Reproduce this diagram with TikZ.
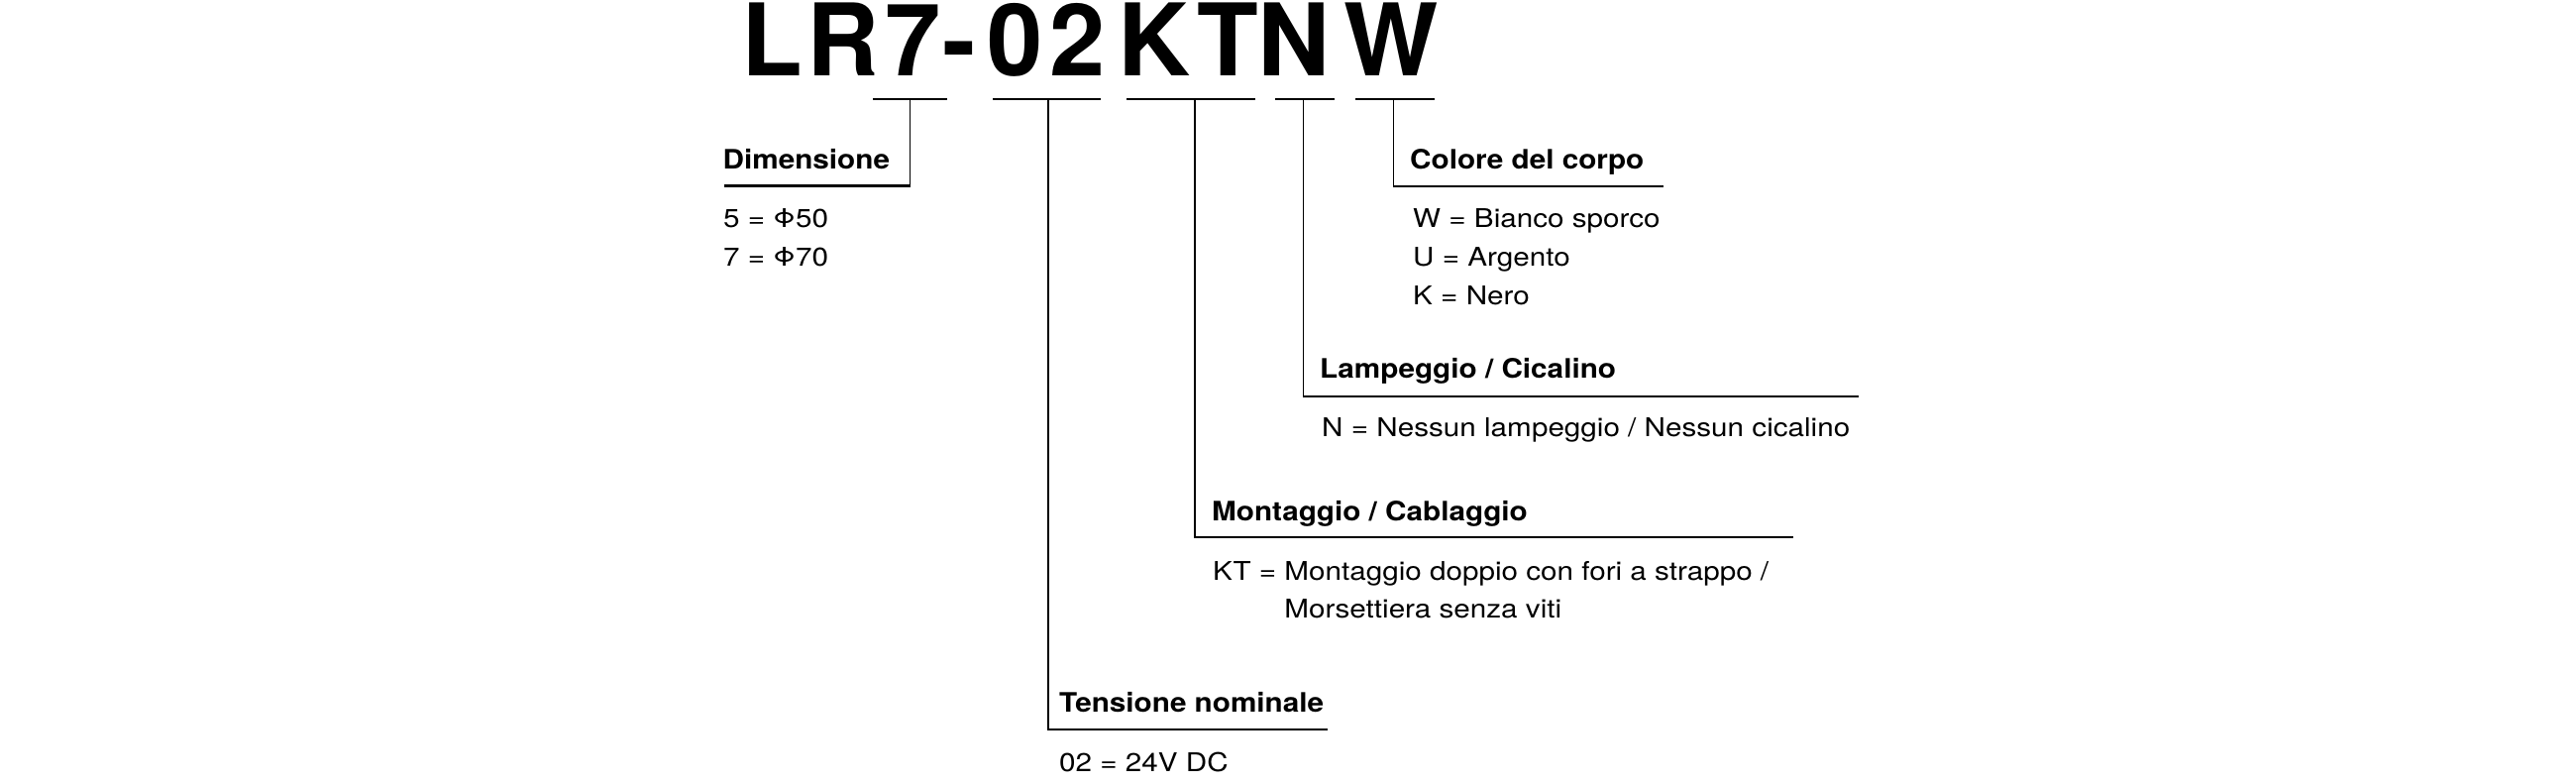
\documentclass[tikz,border=0pt]{standalone}
\usepackage{fontspec}
\setmainfont{TeX Gyre Heros}
\newfontfamily\labfont{TeX Gyre Heros}[FakeStretch=1.1]
\newfontfamily\valfont{TeX Gyre Heros}[FakeStretch=1.14]
\begin{document}
\begin{tikzpicture}[x=1pt,y=-1pt,
  title/.style={inner sep=0pt,anchor=base,font=\fontsize{101}{101}\selectfont\bfseries},
  lab/.style={inner sep=0pt,anchor=base west,font=\labfont\bfseries\fontsize{27}{30}\selectfont},
  val/.style={inner sep=0pt,anchor=base west,font=\valfont\fontsize{26}{30}\selectfont},
  bar/.style={line width=2pt},
  stem/.style={line width=1.4pt},
  uline/.style={line width=2.3pt}]
\useasboundingbox[fill=white] (0,0) rectangle (2600,790);
% title letters
\node[title] (tL) at (779,76) {L};
\node[title] (tR) at (851,76) {R};
\node[title] (t7) at (921.6,76) {7};
\node[title] (tD) at (968.8,76) {-};
\node[title] (t0) at (1024.3,76) {0};
\node[title] (t2) at (1088,76) {2};
\node[title] (tK) at (1164.8,76) {K};
\node[title] (tT) at (1239,76) {T};
\node[title] (tN) at (1306.3,76) {N};
\node[title] (tW) at (1404,76) {W};
% bars
\coordinate (b1a) at (881,100);  \coordinate (b1b) at (956,100);
\coordinate (b2a) at (1002,100); \coordinate (b2b) at (1111,100);
\coordinate (b3a) at (1137,100); \coordinate (b3b) at (1267,100);
\coordinate (b4a) at (1287,100); \coordinate (b4b) at (1347,100);
\coordinate (b5a) at (1368,100); \coordinate (b5b) at (1448,100);
\draw[bar] (b1a) -- (b1b);
\draw[bar] (b2a) -- (b2b);
\draw[bar] (b3a) -- (b3b);
\draw[bar] (b4a) -- (b4b);
\draw[bar] (b5a) -- (b5b);
% Dimensione
\coordinate (s1) at (918.5,100); \coordinate (c1) at (918.5,187.5); \coordinate (e1) at (731,187.5);
\draw[stem] (s1) -- (c1);
\draw[uline] ([xshift=0.7pt]c1) -- (e1);
\node[lab] (dim) at (729.5,170.7) {Dimensione};
\node[val] (dim1) at (730,229.3) {5 = Φ50};
\node[val] (dim2) at (730,268.3) {7 = Φ70};
% Colore del corpo
\coordinate (s5) at (1406.7,100); \coordinate (c5) at (1406.7,188.3); \coordinate (e5) at (1679,188.3);
\draw[stem] (s5) -- (c5);
\draw[uline] ([xshift=-0.7pt]c5) -- (e5);
\node[lab] (col) at (1423,170.7) {Colore del corpo};
\node[val] (col1) at (1426,229.3) {W = Bianco sporco};
\node[val] (col2) at (1426,268.3) {U = Argento};
\node[val] (col3) at (1426,307.3) {K = Nero};
% Lampeggio / Cicalino
\coordinate (s4) at (1315.5,100); \coordinate (c4) at (1315.5,400); \coordinate (e4) at (1876,400);
\draw[stem] (s4) -- (c4);
\draw[uline] ([xshift=-0.7pt]c4) -- (e4);
\node[lab] (lam) at (1332,381.7) {Lampeggio / Cicalino};
\node[val] (lam1) at (1334,440.7) {N = Nessun lampeggio / Nessun cicalino};
% Montaggio / Cablaggio
\coordinate (s3) at (1206,100); \coordinate (c3) at (1206,542.3); \coordinate (e3) at (1810,542.3);
\draw[stem] (s3) -- (c3);
\draw[uline] ([xshift=-0.7pt]c3) -- (e3);
\node[lab] (mon) at (1223,525) {Montaggio / Cablaggio};
\node[val] (mon1) at (1224,585) {KT = Montaggio doppio con fori a strappo /};
\node[val] (mon2) at (1224,623.3) {\phantom{KT = }Morsettiera senza viti};
% Tensione nominale
\coordinate (s2) at (1057.8,100); \coordinate (c2) at (1057.8,736); \coordinate (e2) at (1340,736);
\draw[stem] (s2) -- (c2);
\draw[uline] ([xshift=-0.7pt]c2) -- (e2);
\node[lab] (ten) at (1069,718.3) {Tensione nominale};
\node[val] (ten1) at (1069,778.3) {02 = 24V DC};
\end{tikzpicture}
\end{document}
